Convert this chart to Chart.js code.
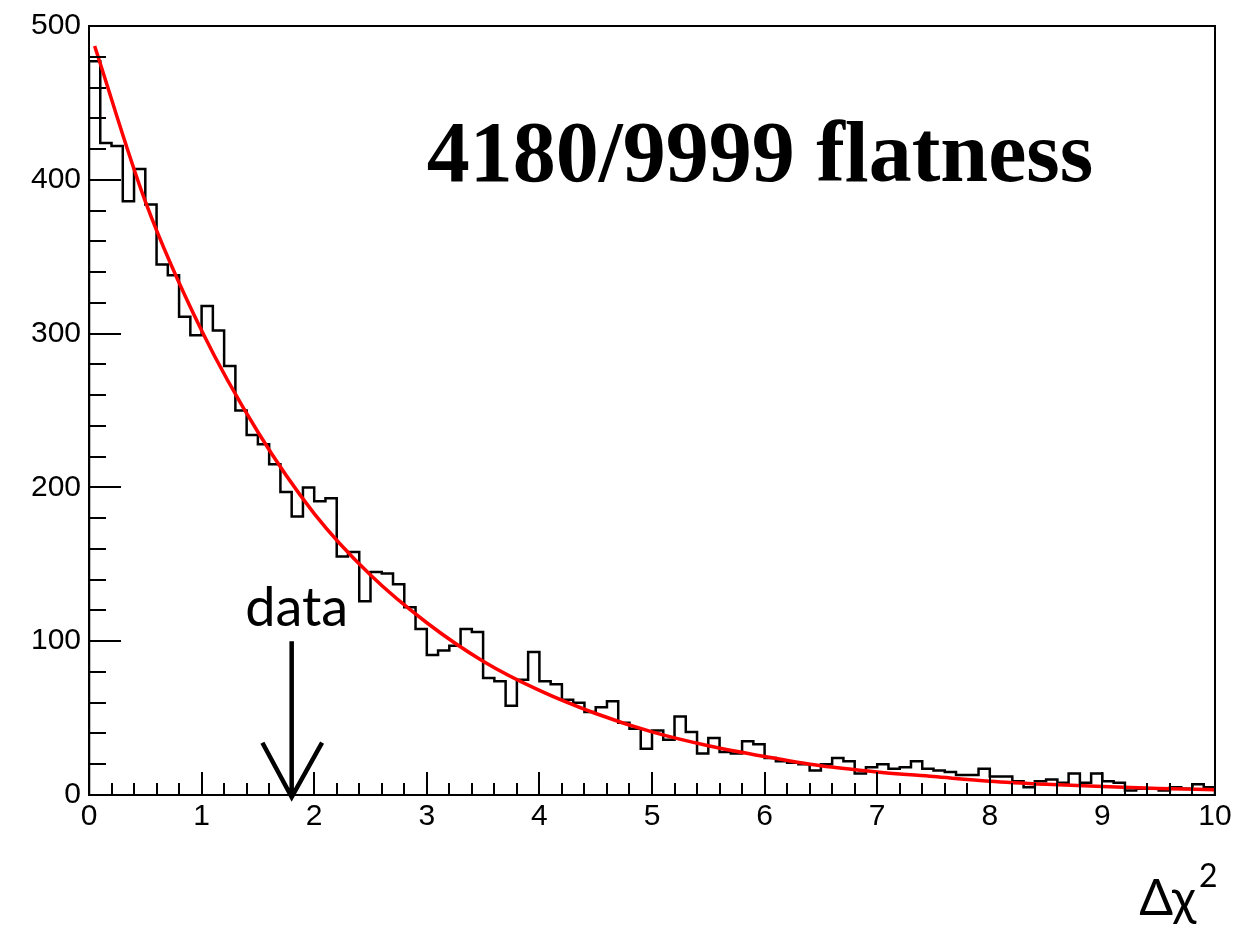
<!DOCTYPE html>
<html>
<head>
<meta charset="utf-8">
<script src="https://cdn.jsdelivr.net/npm/chart.js@4/dist/chart.umd.min.js"></script>
<style>
html,body{margin:0;padding:0;background:#fff;}
#wrap{width:1236px;height:927px;position:relative;}
</style>
</head>
<body>
<div id="wrap"><canvas id="c" width="1236" height="927"></canvas></div>
<script>
// ---- data ----
const binWidth = 0.1;
const counts = [
 477,424,422,386,407,384,345,338,311,299,
 318,302,279,250,234,228,215,197,181,200,
 191,193,155,158,126,145,144,137,122,108,
  91, 94, 97,108,106, 76, 74, 58, 75, 93,
  74, 72, 62, 60, 54, 57, 61, 47, 43, 30,
  42, 36, 51, 41, 27, 37, 28, 27, 35, 33,
  24, 22, 21, 20, 16, 20, 24, 22, 14, 18,
  20, 17, 18, 22, 17, 16, 15, 13, 13, 17,
  12, 12,  9,  5,  9, 10,  8, 14,  8, 14,
   9,  8,  3,  4,  4,  3,  5,  4,  7,  5
];
const fitX = [0.05,0.5,1,1.5,2,2.5,3,3.5,4,4.5,5,5.5,6,6.5,7,7.5,8,8.5,9,9.5,10];
const fitY = [487,386,302,236,183,143,112,87,68,53,41,32,25,19,15,12,9,7,5.5,4.3,3.4];
const xTickLabels = ['0','1','2','3','4','5','6','7','8','9','10'];
const yTickLabels = ['0','100','200','300','400','500'];
const titleText = '4180/9999 flatness';
const arrowLabel = 'data';
const arrowX = 1.8;
const arrowTop = 100;

// histogram outline: one point per bin right edge; 'after' stepping = rise at previous edge, then run to this edge
const histPts = [{x:0, y:0}];
counts.forEach((c,i)=>histPts.push({x:+((i+1)*binWidth).toFixed(2), y:c}));
histPts.push({x:counts.length*binWidth, y:0});
const fitPts = fitX.map((x,i)=>({x, y:fitY[i]}));

const decor = {
  id:'decor',
  afterDatasetsDraw(chart){
    const {ctx, chartArea:a, scales:{x, y}} = chart;
    ctx.save();
    ctx.strokeStyle = '#000';
    ctx.lineWidth = 2;
    ctx.beginPath();
    for (let i=0;i<=50;i++){
      const v = i*0.2;
      const px = Math.round(x.getPixelForValue(v));
      const len = (i%5===0)?23:12;
      ctx.moveTo(px, a.bottom); ctx.lineTo(px, a.bottom-len);
    }
    for (let i=0;i<=25;i++){
      const v = i*20;
      const py = Math.round(y.getPixelForValue(v));
      const len = (i%5===0)?32:17;
      ctx.moveTo(a.left, py); ctx.lineTo(a.left+len, py);
    }
    ctx.stroke();
    ctx.lineWidth = 2;
    ctx.strokeRect(a.left, a.top, a.right-a.left, a.bottom-a.top);

    // title
    ctx.fillStyle = '#000';
    ctx.font = 'bold 86px "Liberation Serif"';
    ctx.textAlign = 'left';
    ctx.textBaseline = 'alphabetic';
    ctx.fillText(titleText, x.getPixelForValue(3.0), y.getPixelForValue(400)+1);

    // arrow
    const ax = x.getPixelForValue(arrowX);
    const ay0 = y.getPixelForValue(arrowTop);
    const ay1 = y.getPixelForValue(0)+2;
    ctx.lineWidth = 4.5;
    ctx.lineCap = 'butt';
    ctx.beginPath();
    ctx.moveTo(ax, ay0); ctx.lineTo(ax, ay1);
    ctx.moveTo(x.getPixelForValue(arrowX-0.26), y.getPixelForValue(34));
    ctx.lineTo(ax, ay1);
    ctx.lineTo(x.getPixelForValue(arrowX+0.27), y.getPixelForValue(34));
    ctx.stroke();
    ctx.font = '54px Lato';
    ctx.textAlign = 'center';
    ctx.fillText(arrowLabel, ax+5, y.getPixelForValue(110));

    // axis title
    ctx.textAlign = 'left';
    ctx.font = '50px Lato';
    const base = a.bottom + 120;
    const txt = 'Δχ';
    const w = ctx.measureText(txt).width;
    ctx.fillText(txt, 1196 - w, base);
    ctx.font = '32px Lato';
    ctx.fillText('2', 1199, base-28);
    ctx.restore();
  }
};

new Chart(document.getElementById('c'), {
  type:'line',
  data:{
    datasets:[
      {data:histPts, borderColor:'#000', borderWidth:2.5, pointRadius:0, stepped:'after', fill:false, order:2},
      {data:fitPts, borderColor:'#ff0000', borderWidth:3.5, pointRadius:0, cubicInterpolationMode:'monotone', fill:false, order:1}
    ]
  },
  options:{
    responsive:false, animation:false, devicePixelRatio:1,
    layout:{padding:{top:24, right:21, left:0, bottom:0}},
    plugins:{legend:{display:false}, tooltip:{enabled:false}},
    scales:{
      x:{type:'linear', min:0, max:10,
        grid:{display:false, drawTicks:false}, border:{display:false},
        afterFit(s){ s.height = 132; },
        afterBuildTicks(s){ s.ticks = xTickLabels.map(t=>({value:+t})); },
        ticks:{autoSkip:false, maxRotation:0, padding:4, color:'#000', font:{family:'"Liberation Sans"', size:30},
          callback:(v)=>xTickLabels[xTickLabels.indexOf(String(v))]}
      },
      y:{type:'linear', min:0, max:500,
        grid:{display:false, drawTicks:false}, border:{display:false},
        afterFit(s){ s.width = 89; },
        afterBuildTicks(s){ s.ticks = yTickLabels.map(t=>({value:+t})); },
        ticks:{autoSkip:false, padding:8, color:'#000', font:{family:'"Liberation Sans"', size:30},
          callback:(v)=>yTickLabels[yTickLabels.indexOf(String(v))]}
      }
    }
  },
  plugins:[decor]
});
</script>
</body>
</html>
